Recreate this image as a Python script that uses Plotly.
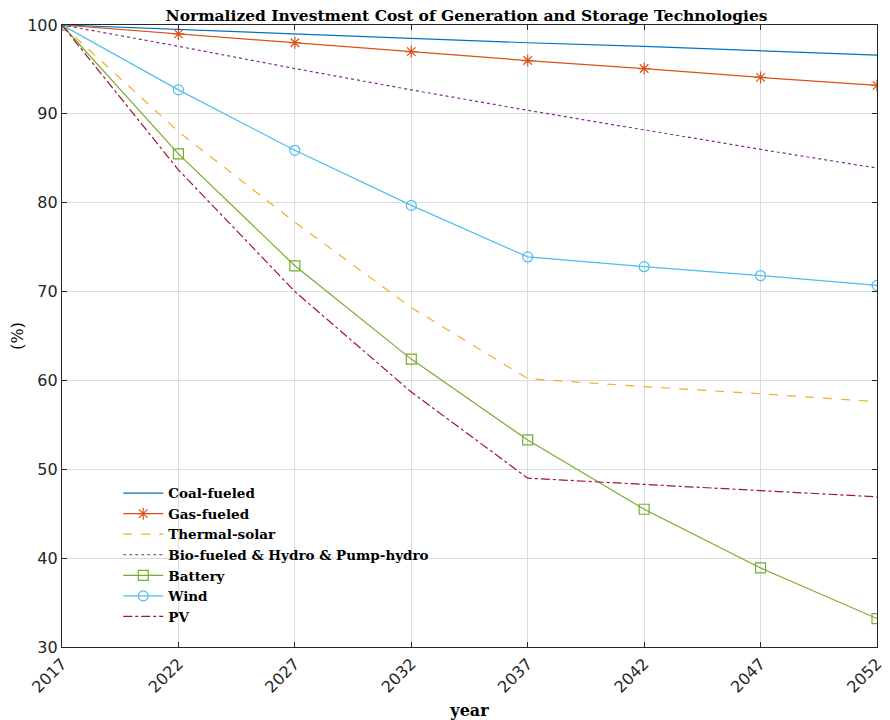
import plotly.graph_objects as go

years = [2017, 2022, 2027, 2032, 2037, 2042, 2047, 2052]
coal = [100, 99.5, 99.0, 98.5, 98.0, 97.6, 97.1, 96.6]
gas = [100, 99.0, 98.0, 97.0, 96.0, 95.1, 94.1, 93.2]
thermal = [100, 88.0, 77.8, 68.2, 60.2, 59.3, 58.5, 57.6]
bio = [100, 97.6, 95.1, 92.7, 90.4, 88.2, 86.0, 83.9]
battery = [100, 85.5, 72.9, 62.4, 53.3, 45.5, 38.9, 33.2]
wind = [100, 92.7, 85.9, 79.7, 73.9, 72.8, 71.8, 70.7]
pv = [100, 83.7, 70.0, 58.7, 49.0, 48.3, 47.6, 46.9]

series = [
    ("Coal-fueled", coal, "#0072BD", "solid", None),
    ("Gas-fueled", gas, "#D95319", "solid", "asterisk-open"),
    ("Thermal-solar", thermal, "#EDB120", "dash", None),
    ("Bio-fueled &amp; Hydro &amp; Pump-hydro", bio, "#7E2F8E", "dot", None),
    ("Battery", battery, "#77AC30", "solid", "square-open"),
    ("Wind", wind, "#4DBEEE", "solid", "circle-open"),
    ("PV", pv, "#A2142F", "dashdot", None),
]

fig = go.Figure()
for name, vals, color, dash, sym in series:
    fig.add_trace(go.Scatter(
        x=years, y=vals, name=name,
        mode="lines+markers" if sym else "lines",
        line=dict(color=color, width=1.2, dash=dash),
        marker=dict(symbol=sym, size=10, color=color, line=dict(color=color, width=1.2)) if sym else None,
    ))

W, H = 882, 712
serif = "DejaVu Serif, Liberation Serif, serif"
tickf = dict(family="DejaVu Sans, sans-serif", size=16, color="#262626")
fig.update_layout(
    width=W, height=H,
    paper_bgcolor="white", plot_bgcolor="white",
    margin=dict(l=54, r=13, t=17, b=73, autoexpand=False),
    title=dict(text="Normalized Investment Cost of Generation and Storage Technologies",
               x=458.5 / W, xanchor="center", xref="container",
               y=1 - 2.5 / H, yanchor="top", yref="container",
               font=dict(family=serif, size=15.5, color="black", weight="bold")),
    legend=dict(x=0.069, y=0.272, xanchor="left", yanchor="top",
                bgcolor="rgba(0,0,0,0)", borderwidth=0,
                font=dict(family=serif, size=13.5, color="black", weight="bold"),
                tracegroupgap=0, itemwidth=40),
    showlegend=True,
)
fig.update_xaxes(
    range=[2017, 2052], tickvals=years, ticktext=[str(y) for y in years],
    tickangle=-45, ticks="inside", ticklen=5, tickcolor="#262626",
    showline=True, linecolor="#262626", linewidth=1.2, mirror="ticks",
    showgrid=True, gridcolor="#dcdcdc", gridwidth=1, zeroline=False,
    automargin=False, tickfont=tickf,
    title=dict(text="year", font=dict(family=serif, size=16, color="black", weight="bold"), standoff=10),
)
fig.update_yaxes(
    range=[30, 100], tickvals=[30, 40, 50, 60, 70, 80, 90, 100],
    ticks="inside", ticklen=5, tickcolor="#262626",
    showline=True, linecolor="#262626", linewidth=1.2, mirror="ticks",
    showgrid=True, gridcolor="#dcdcdc", gridwidth=1, zeroline=False,
    automargin=False, tickfont=tickf,
    title=dict(text="(%)", font=dict(family=serif, size=16, color="black"), standoff=2),
)
fig.write_html("out.html")
